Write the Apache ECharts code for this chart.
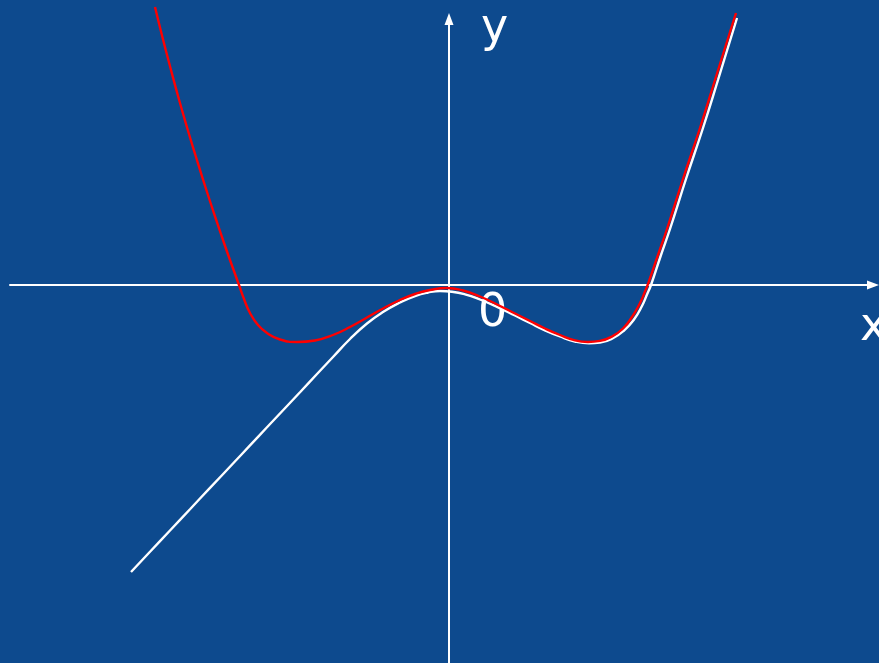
<!DOCTYPE html>
<html>
<head>
<meta charset="utf-8">
<script src="https://cdn.jsdelivr.net/npm/echarts@6/dist/echarts.min.js"></script>
<style>html,body{margin:0;padding:0;background:#0d4a8e}#c{width:879px;height:663px}</style>
</head>
<body>
<div id="c"></div>
<script>
// Red curve (x, y)
const redX = [-2.94,-2.866,-2.788,-2.707,-2.621,-2.53,-2.436,-2.338,-2.236,-2.154,-2.10,-2.05,-1.99,-1.91,-1.82,-1.69,-1.52,-1.34,-1.16,-0.99,-0.82,-0.65,-0.49,-0.34,-0.19,-0.02,0.14,0.31,0.48,0.66,0.81,0.96,1.11,1.26,1.39,1.51,1.63,1.74,1.83,1.91,1.96,1.99,2.09,2.18,2.34,2.51,2.66,2.76,2.87];
const redY = [2.78,2.48,2.18,1.88,1.58,1.28,0.98,0.68,0.38,0.15,0,-0.14,-0.28,-0.40,-0.48,-0.545,-0.57,-0.555,-0.50,-0.42,-0.325,-0.23,-0.15,-0.09,-0.05,-0.03,-0.055,-0.115,-0.195,-0.285,-0.36,-0.435,-0.50,-0.554,-0.57,-0.559,-0.515,-0.435,-0.32,-0.18,-0.065,0.01,0.30,0.56,1.06,1.57,2.05,2.37,2.72];
// White curve (x, y)
const whiteX = [-3.18,-2.99,-2.79,-2.59,-2.39,-2.16,-1.99,-1.82,-1.65,-1.49,-1.32,-1.16,-0.99,-0.82,-0.66,-0.49,-0.34,-0.21,-0.09,0.03,0.16,0.31,0.48,0.66,0.81,0.96,1.11,1.26,1.40,1.51,1.63,1.75,1.85,1.93,1.98,2.02,2.12,2.21,2.37,2.54,2.69,2.88];
const whiteY = [-2.87,-2.668,-2.455,-2.242,-2.029,-1.785,-1.604,-1.423,-1.242,-1.072,-0.89,-0.72,-0.54,-0.385,-0.27,-0.175,-0.11,-0.075,-0.06,-0.067,-0.093,-0.145,-0.218,-0.305,-0.38,-0.453,-0.515,-0.565,-0.583,-0.576,-0.538,-0.455,-0.345,-0.21,-0.095,0,0.30,0.56,1.06,1.57,2.05,2.67];
const axisLabels = {x: 'x', y: 'y', origin: '0'};

const pairs = (xs, ys) => xs.map((x, i) => [x, ys[i]]);

const chart = echarts.init(document.getElementById('c'));
const font = '46px "DejaVu Sans"';
chart.setOption({
  backgroundColor: '#0d4a8e',
  animation: false,
  grid: {left: 10, right: 6, top: 19, bottom: 0},
  xAxis: {
    type: 'value', min: -4.39, max: 4.24,
    axisLine: {onZero: true, symbol: ['none', 'triangle'], symbolSize: [9, 12], lineStyle: {color: '#ffffff', width: 2}},
    axisTick: {show: false}, axisLabel: {show: false}, splitLine: {show: false}
  },
  yAxis: {
    type: 'value', min: -3.78, max: 2.66,
    axisLine: {onZero: true, symbol: ['none', 'triangle'], symbolSize: [9, 12], lineStyle: {color: '#ffffff', width: 2}},
    axisTick: {show: false}, axisLabel: {show: false}, splitLine: {show: false}
  },
  series: [
    {type: 'line', data: pairs(whiteX, whiteY), smooth: 0.5, showSymbol: false, clip: false,
     lineStyle: {color: '#ffffff', width: 2.4}},
    {type: 'line', data: pairs(redX, redY), smooth: 0.5, showSymbol: false, clip: false,
     lineStyle: {color: '#ff0000', width: 2.4}}
  ],
  graphic: [
    {type: 'text', x: 481, y: 6, style: {text: axisLabels.y, font: font, fill: '#ffffff'}},
    {type: 'text', x: 860, y: 305, style: {text: axisLabels.x, font: font, fill: '#ffffff'}},
    {type: 'text', x: 478, y: 291, style: {text: axisLabels.origin, font: font, fill: '#ffffff'}}
  ]
});
</script>
</body>
</html>
